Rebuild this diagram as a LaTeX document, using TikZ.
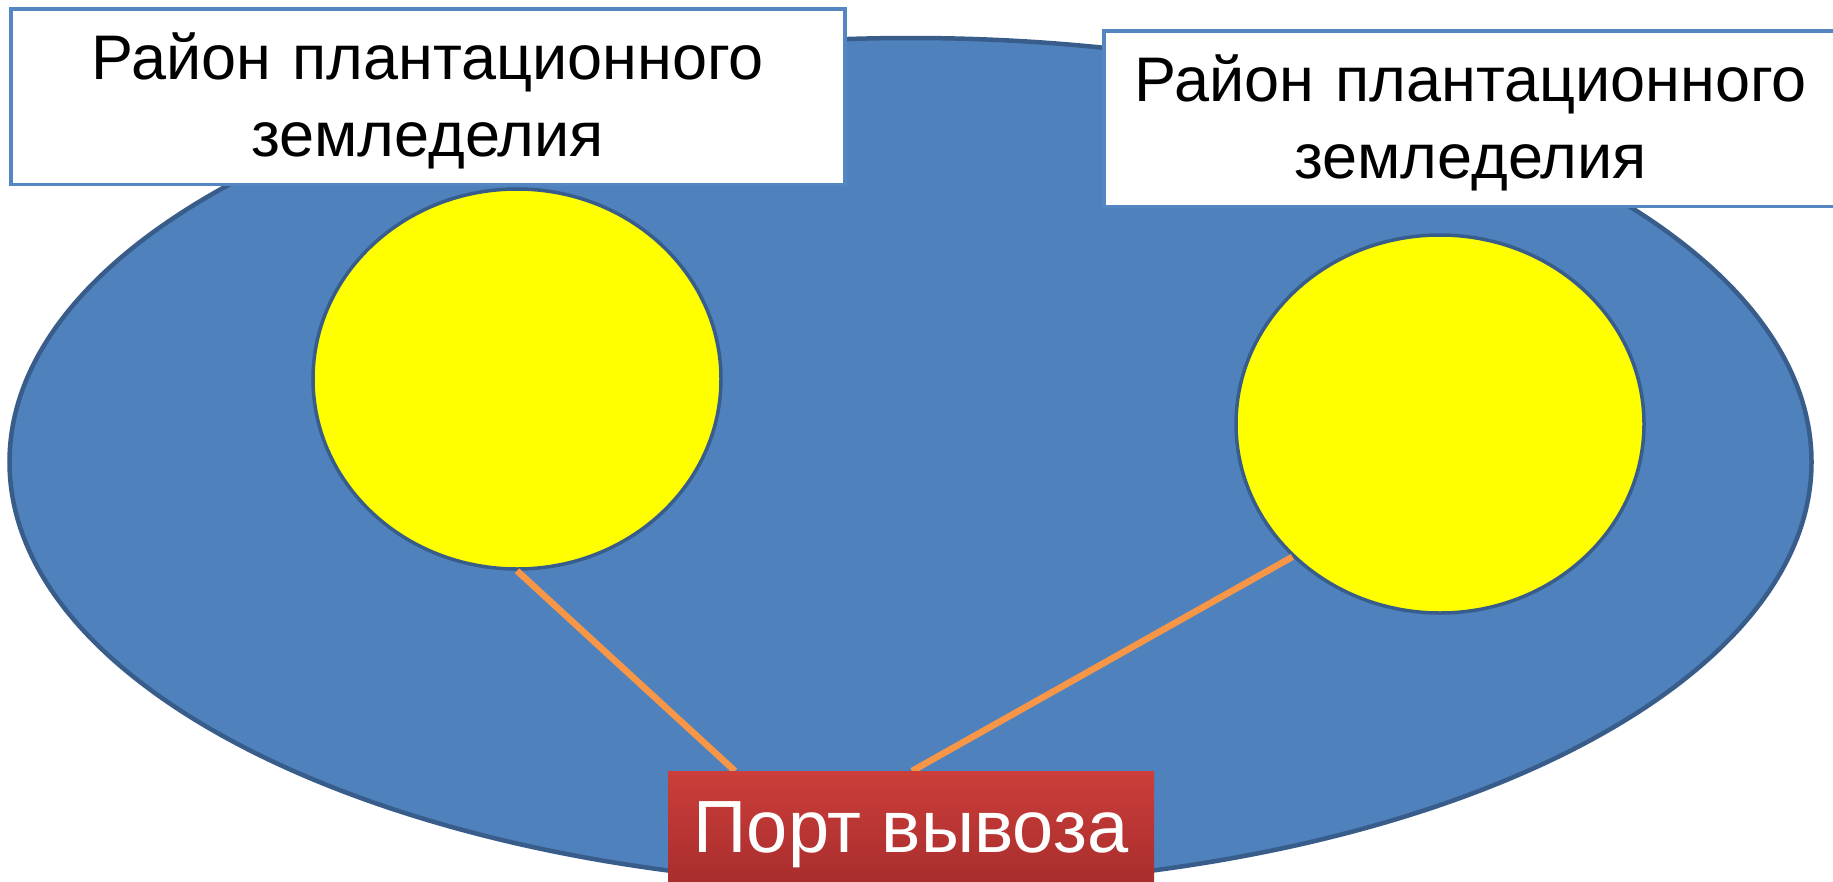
\documentclass[tikz,border=0pt]{standalone}
\usepackage{fontspec}
\setmainfont{Liberation Sans}
\usetikzlibrary{shapes.geometric,shadows}
\definecolor{bluefill}{RGB}{79,129,189}
\definecolor{bluedark}{RGB}{56,93,138}
\definecolor{boxline}{RGB}{84,134,194}
\definecolor{orangeline}{RGB}{247,150,70}
\definecolor{redtop}{RGB}{204,62,58}
\definecolor{redbot}{RGB}{162,43,43}
\definecolor{sunfill}{RGB}{255,255,0}
\begin{document}
\begin{tikzpicture}[x=1pt,y=-1pt,
  region/.style={ellipse, draw=bluedark, line width=4.5pt, fill=bluefill, inner sep=0pt},
  area/.style={ellipse, draw=bluedark, line width=3.5pt, fill=sunfill, inner sep=0pt, minimum width=408pt, minimum height=380pt},
  titlebox/.style={rectangle, draw=boxline, line width=3.5pt, fill=white, inner sep=0pt, align=center, font=\fontsize{63}{76.5}\selectfont},
  link/.style={draw=orangeline, line width=6.5pt},
  portbox/.style={rectangle, inner sep=0pt, top color=redtop, bottom color=redbot, text=white, font=\fontsize{74}{90}\selectfont, minimum width=486pt, text height=81pt, text depth=48pt, drop shadow={shadow xshift=0pt, shadow yshift=-2pt, opacity=0.3}}
]
\useasboundingbox (0,0) rectangle (1833,881);
\clip (0,0) rectangle (1833,881);
\fill[white] (0,0) rectangle (1833,881);
\node[region, minimum width=1802pt, minimum height=848pt] (land) at (910.5,462) {};
\node[area] (y1) at (517,379) {};
\node[area, minimum height=378pt] (y2) at (1440,424) {};
\coordinate (pl) at (735,771);
\coordinate (pr) at (912,771);
\draw[link] (y1.south) -- (pl);
\draw[link] (y2.222.7) -- (pr);
\node[titlebox, text width=834pt, anchor=north west] (t1) at (9,7)
  {\rule{0pt}{71pt}Район плантационного\\земледелия\rule[-28pt]{0pt}{28pt}};
\node[titlebox, text width=734pt, anchor=north west] (t2) at (1102,29)
  {\rule{0pt}{71pt}Район плантационного\\земледелия\rule[-28pt]{0pt}{28pt}};
\node[portbox, anchor=north] (port) at (911,771) {Порт вывоза};
\end{tikzpicture}
\end{document}
